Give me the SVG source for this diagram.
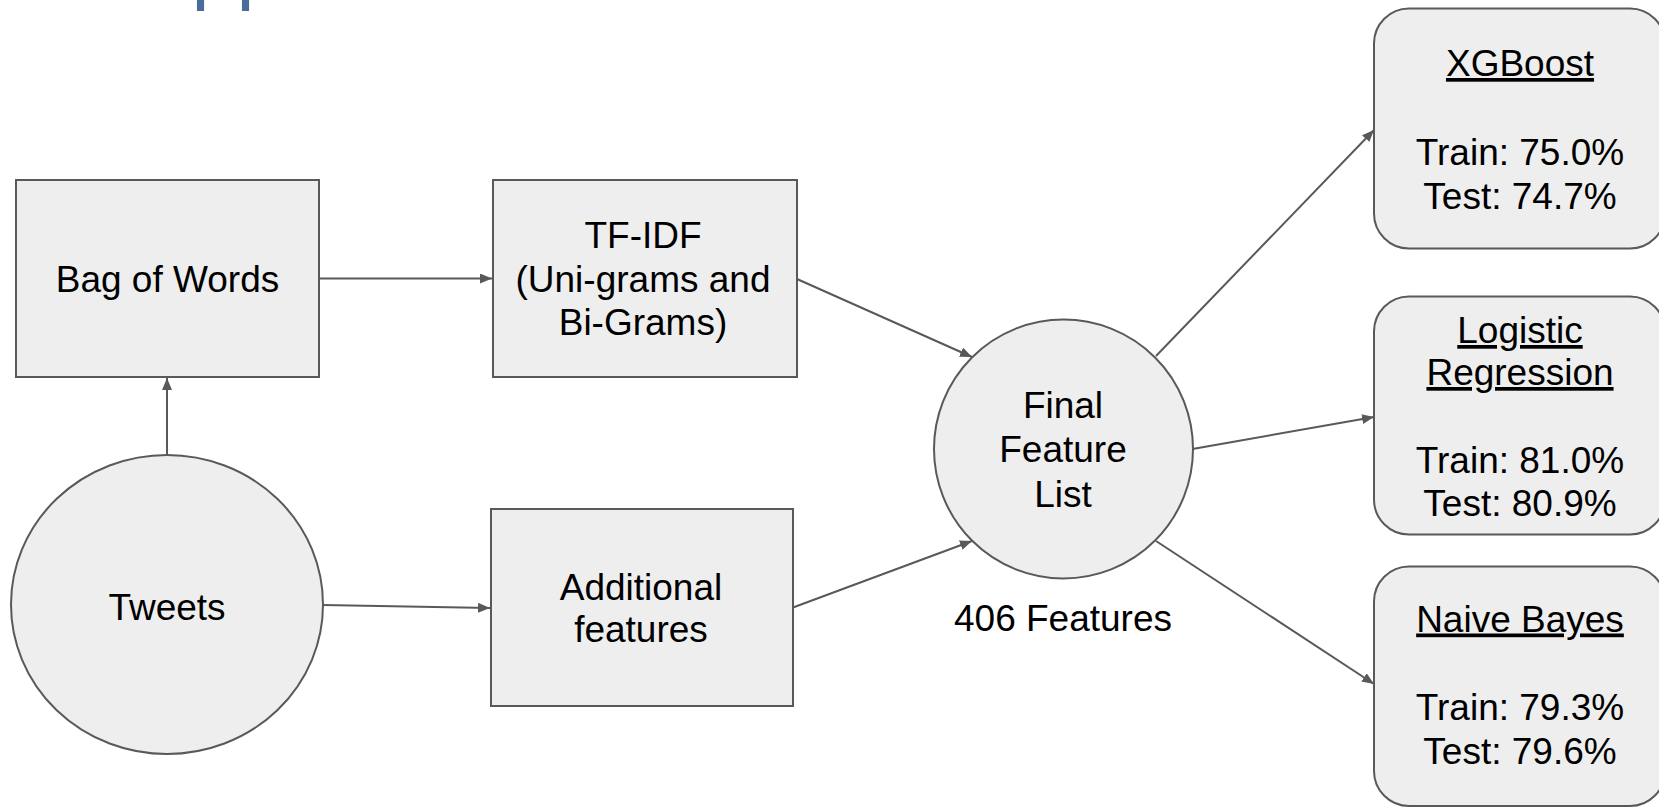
<svg xmlns="http://www.w3.org/2000/svg" width="1659" height="807" viewBox="0 0 1659 807">
  <style>
    .node { fill: #eeeeee; stroke: #595959; stroke-width: 2; }
    .lbl { font-family: "Liberation Sans", Arial, sans-serif; font-size: 37px; fill: #000000; text-anchor: middle; }
    .title { text-decoration: underline; }
    .edge { stroke: #595959; stroke-width: 2; fill: none; marker-end: url(#arrow); }
  </style>
  <defs>
    <marker id="arrow" markerUnits="userSpaceOnUse" markerWidth="14" markerHeight="12" refX="12" refY="5" orient="auto">
      <path d="M0,0 L12,5 L0,10 Z" fill="#595959"/>
    </marker>
  </defs>
  <rect width="1659" height="807" fill="#ffffff"/>

  <!-- heading descenders cut at the top edge -->
  <text x="191.5" y="-6" font-family="Liberation Sans, Arial, sans-serif" font-size="81" fill="#4a6b9b">pp</text>

  <g id="connectors">
    <line class="edge" x1="167" y1="455" x2="167" y2="378"/>
    <line class="edge" x1="319" y1="278.5" x2="492" y2="278.5"/>
    <line class="edge" x1="323" y1="605" x2="490" y2="608"/>
    <line class="edge" x1="797" y1="279" x2="972" y2="357"/>
    <line class="edge" x1="793" y1="607.5" x2="972" y2="541"/>
    <line class="edge" x1="1156" y1="356" x2="1374" y2="130"/>
    <line class="edge" x1="1192.5" y1="449" x2="1374" y2="417"/>
    <line class="edge" x1="1156" y1="541" x2="1374" y2="684"/>
  </g>

  <g id="tweets">
    <ellipse class="node" cx="167" cy="604.5" rx="156" ry="149.5"/>
    <text class="lbl" x="167" y="620">Tweets</text>
  </g>

  <g id="bag-of-words">
    <rect class="node" x="16" y="180" width="303" height="197"/>
    <text class="lbl" x="167.5" y="292">Bag of Words</text>
  </g>

  <g id="tf-idf">
    <rect class="node" x="493" y="180" width="304" height="197"/>
    <text class="lbl" x="643" y="248">TF-IDF<tspan x="643" dy="43.5">(Uni-grams and</tspan><tspan x="643" dy="43.5">Bi-Grams)</tspan></text>
  </g>

  <g id="additional-features">
    <rect class="node" x="491" y="509" width="302" height="197"/>
    <text class="lbl" x="641" y="600">Additional<tspan x="641" dy="42">features</tspan></text>
  </g>

  <g id="final-feature-list">
    <circle class="node" cx="1063.5" cy="449" r="129.5"/>
    <text class="lbl" x="1063" y="418">Final<tspan x="1063" dy="44.3">Feature</tspan><tspan x="1063" dy="44.3">List</tspan></text>
    <text class="lbl" x="1063" y="631">406 Features</text>
  </g>

  <g id="xgboost">
    <rect class="node" x="1374" y="8.5" width="291" height="240" rx="35" ry="35"/>
    <text class="lbl title" x="1520" y="76">XGBoost</text>
    <text class="lbl" x="1520" y="165">Train: 75.0%<tspan x="1520" dy="43.5">Test: 74.7%</tspan></text>
  </g>

  <g id="logistic-regression">
    <rect class="node" x="1374" y="296.5" width="291" height="238" rx="35" ry="35"/>
    <text class="lbl title" x="1520" y="343">Logistic<tspan x="1520" dy="42">Regression</tspan></text>
    <text class="lbl" x="1520" y="473">Train: 81.0%<tspan x="1520" dy="43.3">Test: 80.9%</tspan></text>
  </g>

  <g id="naive-bayes">
    <rect class="node" x="1374" y="566.5" width="291" height="239.5" rx="35" ry="35"/>
    <text class="lbl title" x="1520" y="631.5">Naive Bayes</text>
    <text class="lbl" x="1520" y="720">Train: 79.3%<tspan x="1520" dy="43.5">Test: 79.6%</tspan></text>
  </g>
</svg>
